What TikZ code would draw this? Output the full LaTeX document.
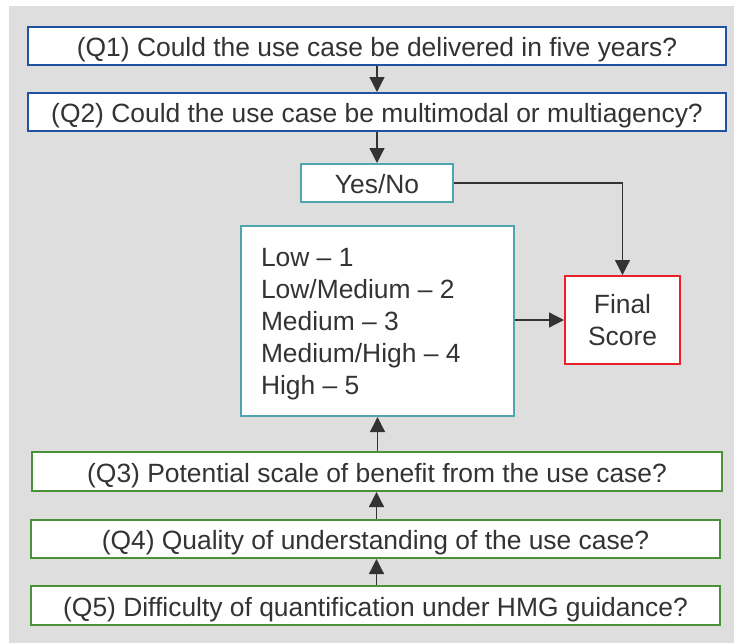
\documentclass[tikz,border=0pt]{standalone}
\usepackage{fontspec}
\setmainfont{Liberation Sans}
\usetikzlibrary{arrows.meta}
\definecolor{bg}{HTML}{DEDEDE}
\definecolor{qblue}{HTML}{1F52A0}
\definecolor{qteal}{HTML}{4DA6AE}
\definecolor{qred}{HTML}{E8202A}
\definecolor{qgreen}{HTML}{4A9238}
\definecolor{txt}{HTML}{333333}
\begin{document}
\begin{tikzpicture}[x=1pt,y=-1pt,
  box/.style={draw, line width=2pt, fill=white, inner sep=0pt, text=txt,
    font=\fontsize{26.4}{32}\selectfont},
  oneline/.style={text height=21pt, text depth=0pt},
  bluebox/.style={box, oneline, draw=qblue},
  tealbox/.style={box, draw=qteal},
  redbox/.style={box, draw=qred},
  greenbox/.style={box, oneline, draw=qgreen},
  conn/.style={draw=txt, line width=1.3pt, -{Triangle[length=15pt,width=15pt]}}
]
\useasboundingbox (0,0) rectangle (734,643);
\fill[bg] (9,6) rectangle (734,643);

\node[bluebox, minimum width=698pt, minimum height=38pt] (q1) at (377,46) {(Q1) Could the use case be delivered in five years?};
\node[bluebox, minimum width=698pt, minimum height=38pt] (q2) at (377,112) {(Q2) Could the use case be multimodal or multiagency?};
\node[tealbox, oneline, minimum width=152pt, minimum height=38pt] (yn) at (377,183) {Yes/No};
\node[tealbox, minimum width=273pt, minimum height=190pt, text height=19pt, text depth=129pt] (sc) at (377.5,321) {\parbox[t]{233pt}{\raggedright Low -- 1\\Low/Medium -- 2\\Medium -- 3\\Medium/High -- 4\\High -- 5}};
\node[redbox, minimum width=115pt, minimum height=88pt, text height=19pt, text depth=33pt] (fs) at (622.5,320) {\parbox[t]{111pt}{\centering Final\\Score}};
\node[greenbox, minimum width=690pt, minimum height=39pt] (q3) at (377,471.5) {(Q3) Potential scale of benefit from the use case?};
\node[greenbox, minimum width=689pt, minimum height=38pt] (q4) at (375.5,539) {(Q4) Quality of understanding of the use case?};
\node[greenbox, minimum width=689pt, minimum height=39pt] (q5) at (375.5,605.5) {(Q5) Difficulty of quantification under HMG guidance?};

\draw[conn] (q1.south -| yn.north) -- (q2.north -| yn.north);
\draw[conn] (q2.south -| yn.north) -- (yn.north);
\draw[conn] (yn.east) -| (fs.north);
\draw[conn] (sc.east |- fs.west) -- (fs.west);
\draw[conn] (q3.north -| sc.south) -- (sc.south);
\draw[conn] ([xshift=-1pt]q4.north -| sc.south) -- ([xshift=-1pt]q3.south -| sc.south);
\draw[conn] ([xshift=-1pt]q5.north -| sc.south) -- ([xshift=-1pt]q4.south -| sc.south);
\end{tikzpicture}
\end{document}
